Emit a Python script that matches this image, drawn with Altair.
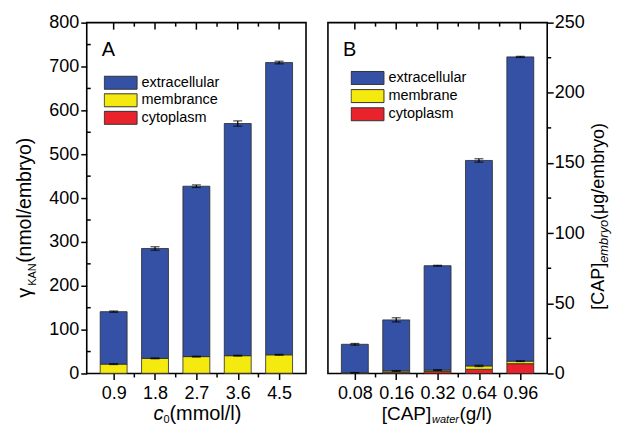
import json
import altair as alt
import pandas as pd

# ---------------- data ----------------
# Panel A: KAN uptake vs c0
a_labels = ["0.9", "1.8", "2.7", "3.6", "4.5"]
a_total = [141, 285, 427, 570, 709]
a_membrane = [21, 34, 38, 40, 42]
a_cytoplasm = [0.4, 0.5, 0.5, 0.6, 0.6]
a_total_err = [1.5, 4, 3, 6, 3]
a_membrane_err = [1, 1, 1, 1, 1]
a_series = ["extracellular", "membrance", "cytoplasm"]
a_yticks = [0, 100, 200, 300, 400, 500, 600, 700, 800]
a_yminor = [50, 150, 250, 350, 450, 550, 650, 750]

# Panel B: CAP uptake vs [CAP]water
b_labels = ["0.08", "0.16", "0.32", "0.64", "0.96"]
b_total = [20.8, 38.2, 76.8, 151.8, 225.6]
b_membrane = [0.3, 1.0, 1.0, 2.4, 1.8]
b_cytoplasm = [0.2, 0.8, 1.4, 3.0, 7.0]
b_total_err = [0.6, 1.5, 0.3, 1.2, 0.4]
b_membrane_err = [0.2, 0.3, 0.3, 0.5, 0.3]
b_series = ["extracellular", "membrane", "cytoplasm"]
b_yticks = [0, 50, 100, 150, 200, 250]
b_yminor = [25, 75, 125, 175, 225]

colors = ["#3451A6", "#F5EA10", "#E8232B"]

a_ytitle = ["\u03b3", "KAN", "(nmol/embryo)"]
a_xtitle = ["c", "0", "(mmol/l)"]
b_ytitle = ["[CAP]", "embryo", "(\u03bcg/embryo)"]
b_xtitle = ["[CAP]", "water", "(g/l)"]

FONT = "Liberation Sans"
W, H = 220, 352
XDOM = [0.47, 5.53]
RECT = "M-1,-0.394L1,-0.394L1,0.394L-1,0.394Z"


def segments(total, mem, cyt, series):
    rows = []
    for i in range(len(total)):
        c, m, t = cyt[i], mem[i], total[i]
        rows.append({"idx": i + 1, "series": series[2], "lo": 0, "hi": c})
        rows.append({"idx": i + 1, "series": series[1], "lo": c, "hi": c + m})
        rows.append({"idx": i + 1, "series": series[0], "lo": c + m, "hi": t})
    return pd.DataFrame(rows)


def errors(total, mem, cyt, terr, merr):
    rows = []
    for i in range(len(total)):
        rows.append({"idx": i + 1, "lo": total[i] - terr[i], "hi": total[i] + terr[i]})
        top = cyt[i] + mem[i]
        rows.append({"idx": i + 1, "lo": top - merr[i], "hi": top + merr[i]})
    return pd.DataFrame(rows)


def txt(s, x, y, size, angle=0, italic=False):
    return alt.Chart(pd.DataFrame({"t": [s]})).mark_text(
        align="left", baseline="alphabetic", fontSize=size, font=FONT,
        angle=angle, fontStyle="italic" if italic else "normal", color="black",
    ).encode(text="t:N", x=alt.value(x), y=alt.value(y))


def panel(labels, total, mem, cyt, terr, merr, series, ymax, yticks, yminor,
          right_axis, lx, ly, rowpad, texts):
    n = len(labels)
    xs = alt.Scale(domain=XDOM, nice=False, zero=False)
    ys = alt.Scale(domain=[0, ymax], nice=False, zero=True)
    label_expr = json.dumps(labels) + "[round(datum.value) - 1]"
    xaxis = alt.Axis(values=list(range(1, n + 1)), labelExpr=label_expr, title=None,
                     tickSize=6, labelPadding=5, labelFontSize=18, domain=False,
                     grid=False, tickWidth=1.5, tickColor="black", labelColor="black",
                     labelFont=FONT)
    yaxis = alt.Axis(values=yticks, orient="right" if right_axis else "left", title=None,
                     tickSize=6, labelPadding=1 if right_axis else 2, labelFontSize=18,
                     domain=False, grid=False, tickWidth=1.5, tickColor="black",
                     labelColor="black", labelFont=FONT)
    legend = alt.Legend(orient="none", legendX=lx, legendY=ly, direction="vertical",
                        title=None, symbolType=RECT, symbolSize=1089,
                        symbolStrokeColor="#333333", symbolStrokeWidth=1,
                        labelFontSize=14.5, labelOffset=4, labelFont=FONT,
                        labelColor="black", clipHeight=17, rowPadding=rowpad,
                        padding=0, symbolOpacity=1)
    bars = alt.Chart(segments(total, mem, cyt, series)).mark_bar(
        size=27, stroke="#2a2a2a", strokeWidth=0.8
    ).encode(
        x=alt.X("idx:Q", scale=xs, axis=xaxis),
        y=alt.Y("lo:Q", scale=ys, axis=yaxis),
        y2="hi:Q",
        color=alt.Color("series:N", scale=alt.Scale(domain=series, range=colors),
                        legend=legend),
    )
    err = errors(total, mem, cyt, terr, merr)
    ex = alt.X("idx:Q", scale=xs, axis=xaxis)
    erule = alt.Chart(err).mark_rule(color="black", strokeWidth=1.2).encode(
        x=ex, y=alt.Y("lo:Q", scale=ys, axis=yaxis), y2="hi:Q")
    ecap_hi = alt.Chart(err).mark_tick(color="black", orient="horizontal", size=9,
                                       thickness=1.2).encode(
        x=ex, y=alt.Y("hi:Q", scale=ys, axis=yaxis))
    ecap_lo = alt.Chart(err).mark_tick(color="black", orient="horizontal", size=9,
                                       thickness=1.2).encode(
        x=ex, y=alt.Y("lo:Q", scale=ys, axis=yaxis))

    xt = pd.DataFrame({"p": list(range(1, n + 1))})
    xm = pd.DataFrame({"p": [i + 0.5 for i in range(1, n)]})
    px = alt.X("p:Q", scale=xs, axis=xaxis)
    top_major = alt.Chart(xt).mark_rule(color="black", strokeWidth=1.5).encode(
        x=px, y=alt.value(0), y2=alt.value(7))
    top_minor = alt.Chart(xm).mark_rule(color="black", strokeWidth=1.5).encode(
        x=px, y=alt.value(0), y2=alt.value(4))
    bot_minor = alt.Chart(xm).mark_rule(color="black", strokeWidth=1.5).encode(
        x=px, y=alt.value(H), y2=alt.value(H + 4))
    ym = pd.DataFrame({"v": yminor})
    if right_axis:
        yx, yx2 = W, W + 4
    else:
        yx, yx2 = 0, 4
    y_minor = alt.Chart(ym).mark_rule(color="black", strokeWidth=1.5).encode(
        y=alt.Y("v:Q", scale=ys, axis=yaxis), x=alt.value(yx), x2=alt.value(yx2))

    return alt.layer(bars, erule, ecap_hi, ecap_lo, top_major, top_minor,
                     bot_minor, y_minor, *texts).properties(width=W, height=H)


XT = H + 47  # baseline of the bottom titles
texts_a = [
    txt("A", 15, 33, 20),
    txt(a_ytitle[0], -56, 276, 20, angle=270),
    txt(a_ytitle[1], -51, 264, 11, angle=270),
    txt(a_ytitle[2], -56, 241, 19.5, angle=270),
    txt(a_xtitle[0], 67, XT, 20, italic=True),
    txt(a_xtitle[1], 77, XT + 3, 11),
    txt(a_xtitle[2], 83, XT, 20),
]
texts_b = [
    txt("B", 15, 33, 20),
    txt(b_ytitle[0], 277, 288, 18, angle=270),
    txt(b_ytitle[1], 281, 241, 13, angle=270, italic=True),
    txt(b_ytitle[2], 277, 198, 18, angle=270),
    txt(b_xtitle[0], 54, XT, 19),
    txt(b_xtitle[1], 104.5, XT + 3, 11, italic=True),
    txt(b_xtitle[2], 132, XT, 19),
]

pa = panel(a_labels, a_total, a_membrane, a_cytoplasm, a_total_err, a_membrane_err,
           a_series, 800, a_yticks, a_yminor, False, 17, 51.8, 0.6, texts_a)
pb = panel(b_labels, b_total, b_membrane, b_cytoplasm, b_total_err, b_membrane_err,
           b_series, 250, b_yticks, b_yminor, True, 22.7, 47, 1.2, texts_b)

chart = alt.hconcat(pa, pb, spacing=20).resolve_scale(
    color="independent", x="independent", y="independent"
).properties(
    padding={"left": 6, "top": 4, "right": 0, "bottom": 0}
).configure(font=FONT).configure_view(stroke="black", strokeWidth=1.6)

chart.save("out.html", embed_options={"renderer": "svg", "actions": False})
